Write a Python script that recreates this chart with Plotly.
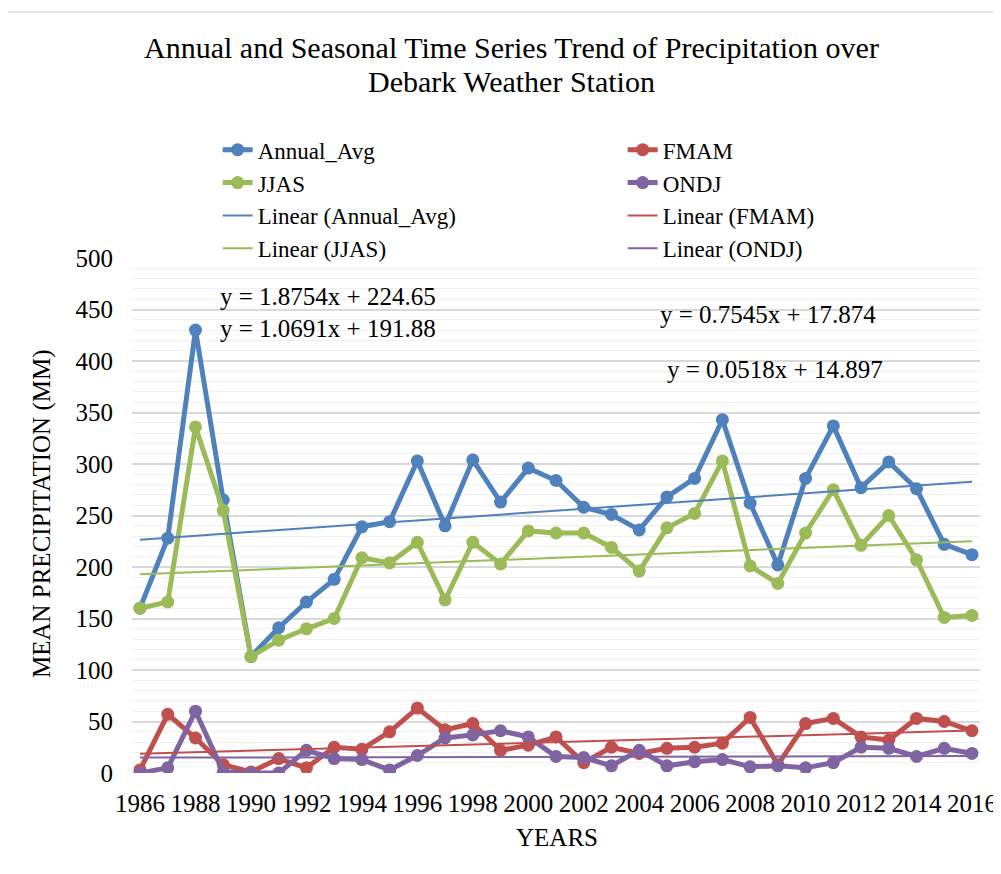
import plotly.graph_objects as go

years = list(range(1986, 2017))
annual_avg = [160, 228, 430, 265, 113, 141, 166, 188, 239, 244,
              303, 240, 304, 263, 296, 284, 258, 251, 236, 268,
              286, 343, 262, 202, 286, 337, 277, 302, 276, 222, 212]
fmam = [3, 57, 34, 8, 1, 14, 5, 25, 23, 40,
        63, 42, 48, 22, 27, 35, 10, 25, 19, 24,
        25, 29, 54, 8, 48, 53, 35, 32, 53, 50, 41]
jjas = [160, 166, 336, 255, 113, 129, 140, 150, 209, 204,
        224, 168, 224, 203, 235, 233, 233, 219, 196, 238,
        252, 303, 201, 184, 233, 275, 221, 250, 207, 151, 153]
ondj = [0, 5, 60, 1, 0, 0, 22, 14, 13, 3,
        17, 34, 37, 41, 35, 16, 15, 7, 22, 7,
        11, 13, 6, 7, 5, 10, 25, 24, 16, 24, 19]

series_names = ["Annual_Avg", "FMAM", "JJAS", "ONDJ"]
series_values = [annual_avg, fmam, jjas, ondj]
series_colors = ["#4F81BD", "#C0504D", "#9BBB59", "#8064A2"]
trend_slopes = [1.8754, 0.7545, 1.0691, 0.0518]
trend_intercepts = [224.65, 17.874, 191.88, 14.897]
equation_labels = ["y = 1.8754x + 224.65", "y = 0.7545x + 17.874",
                   "y = 1.0691x + 191.88", "y = 0.0518x + 14.897"]
xtick_vals = list(range(1986, 2017, 2))
xtick_text = [str(v) for v in xtick_vals]

FONT = "Liberation Serif"
fig = go.Figure()

left_col = {"Annual_Avg", "JJAS"}
for name, vals, col in zip(series_names, series_values, series_colors):
    fig.add_trace(go.Scatter(
        x=years, y=vals, name=name, mode="lines+markers",
        line=dict(color=col, width=5), marker=dict(color=col, size=13),
        legendwidth=360 if name in left_col else 200))

for name, a, b, col in zip(series_names, trend_slopes, trend_intercepts, series_colors):
    idx = list(range(1, len(years) + 1))
    fig.add_trace(go.Scatter(
        x=[years[0], years[-1]], y=[a * idx[0] + b, a * idx[-1] + b],
        name=f"Linear ({name})", mode="lines",
        line=dict(color=col, width=2),
        legendwidth=360 if name in left_col else 200))

annos = []
eq_pos = [(1988.81, 463), (2004.68, 444.7), (1988.81, 432), (2004.93, 392)]
for txt, (ax, ay) in zip(equation_labels, eq_pos):
    annos.append(dict(x=ax, y=ay, xref="x", yref="y", text=txt, showarrow=False,
                      xanchor="left", yanchor="middle",
                      font=dict(family=FONT, size=25, color="#000000")))

annos += [
    dict(x=0.448, y=1.408, xref="paper", yref="paper", showarrow=False,
         text="Annual and Seasonal Time Series Trend of Precipitation over",
         xanchor="center", yanchor="middle", font=dict(family=FONT, size=30, color="#000000")),
    dict(x=0.448, y=1.342, xref="paper", yref="paper", showarrow=False,
         text="Debark Weather Station",
         xanchor="center", yanchor="middle", font=dict(family=FONT, size=30, color="#000000")),
    dict(x=-0.106, y=0.503, xref="paper", yref="paper", showarrow=False,
         text="MEAN PRECIPITATION (MM)", textangle=-90,
         xanchor="center", yanchor="middle", font=dict(family=FONT, size=25, color="#000000")),
    dict(x=0.501, y=-0.126, xref="paper", yref="paper", showarrow=False,
         text="YEARS",
         xanchor="center", yanchor="middle", font=dict(family=FONT, size=25, color="#000000")),
]

fig.update_layout(
    width=993, height=866,
    margin=dict(l=124, r=21, t=250, b=101, autoexpand=False),
    paper_bgcolor="white", plot_bgcolor="white",
    font=dict(family=FONT, size=25, color="#000000"),
    showlegend=True,
    legend=dict(orientation="h", x=0.101, xanchor="left", y=1.252, yanchor="top",
                font=dict(family=FONT, size=23, color="#000000"),
                bgcolor="rgba(0,0,0,0)", traceorder="normal"),
    annotations=annos,
    shapes=[dict(type="rect", xref="paper", yref="paper",
                 x0=-0.1498, x1=1.1, y0=-0.25, y1=1.4777,
                 line=dict(color="#D9D9D9", width=1.5), layer="below")],
    xaxis=dict(range=[1985.71, 2016.29], tickvals=xtick_vals, ticktext=xtick_text,
               showgrid=False, zeroline=False, showline=False, ticks="",
               ticklabelstandoff=13,
               tickfont=dict(family=FONT, size=25, color="#000000")),
    yaxis=dict(range=[0, 500], dtick=50, tick0=0, showgrid=True,
               gridcolor="#D9D9D9", gridwidth=1.5, zeroline=False, showline=False,
               ticks="", ticklabelstandoff=18,
               tickfont=dict(family=FONT, size=25, color="#000000"),
               minor=dict(dtick=10, showgrid=True, gridcolor="#F0F0F0", gridwidth=1)),
)

fig.write_html("out.html")
